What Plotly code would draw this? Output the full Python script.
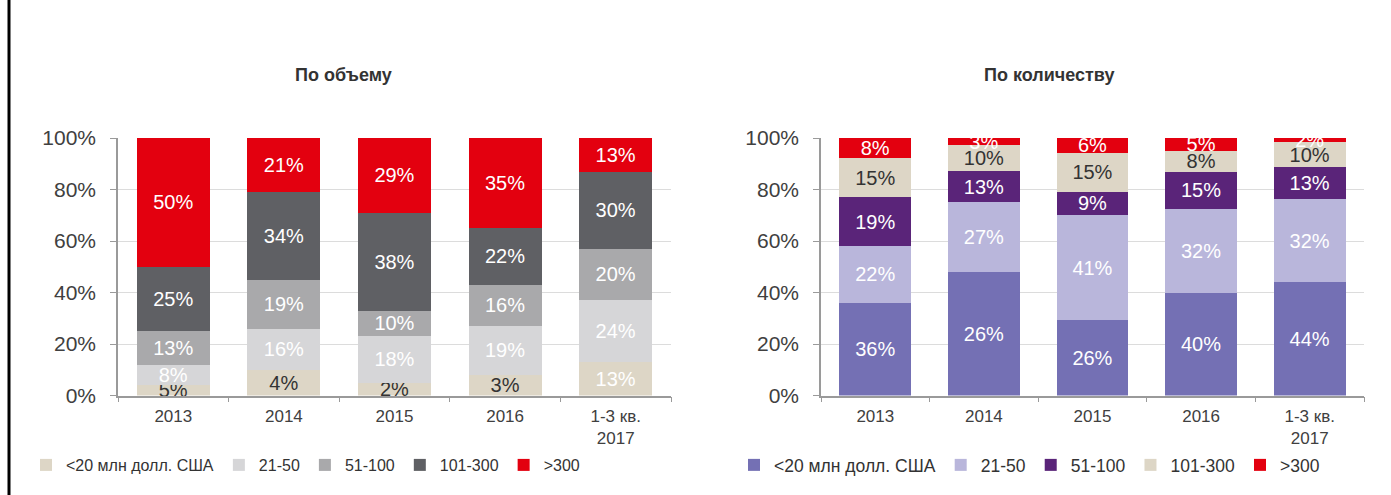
import plotly.graph_objects as go

W, H = 1391, 495

categories = ["2013", "2014", "2015", "2016", "1-3 кв.<br>2017"]
series_names = ["<20 млн долл. США", "21-50", "51-100", "101-300", ">300"]

# По объему: bar heights and printed labels
vol_lt20 = [4, 10, 5, 8, 13]
vol_21_50 = [8, 16, 18, 19, 24]
vol_51_100 = [13, 19, 10, 16, 20]
vol_101_300 = [25, 34, 38, 22, 30]
vol_gt300 = [50, 21, 29, 35, 13]
vol_lbl_lt20 = ["5%", "4%", "2%", "3%", "13%"]
vol_lbl_21_50 = ["8%", "16%", "18%", "19%", "24%"]
vol_lbl_51_100 = ["13%", "19%", "10%", "16%", "20%"]
vol_lbl_101_300 = ["25%", "34%", "38%", "22%", "30%"]
vol_lbl_gt300 = ["50%", "21%", "29%", "35%", "13%"]

# По количеству
cnt_lt20 = [36, 47.8, 29.3, 40, 44.1]
cnt_21_50 = [22, 27.2, 40.8, 32.6, 32.2]
cnt_51_100 = [19, 12.3, 9.1, 14.3, 12.4]
cnt_101_300 = [15.2, 10, 15.1, 8.2, 9.7]
cnt_gt300 = [7.8, 2.6, 5.6, 4.8, 1.5]
cnt_lbl_lt20 = ["36%", "26%", "26%", "40%", "44%"]
cnt_lbl_21_50 = ["22%", "27%", "41%", "32%", "32%"]
cnt_lbl_51_100 = ["19%", "13%", "9%", "15%", "13%"]
cnt_lbl_101_300 = ["15%", "10%", "15%", "8%", "10%"]
cnt_lbl_gt300 = ["8%", "3%", "6%", "5%", "2%"]

y_ticks = [0, 20, 40, 60, 80, 100]
y_tick_labels = ["0%", "20%", "40%", "60%", "80%", "100%"]

FONT = "Arial, Liberation Sans, sans-serif"
DARK = "#333333"
WHITE = "#ffffff"

vol_colors = ["#DDD6C6", "#D6D6D8", "#A9A9AB", "#5F6064", "#E3000F"]
cnt_colors = ["#7470B4", "#B9B6DB", "#5A2479", "#DDD6C6", "#E3000F"]

vol_vals = [vol_lt20, vol_21_50, vol_51_100, vol_101_300, vol_gt300]
vol_lbls = [vol_lbl_lt20, vol_lbl_21_50, vol_lbl_51_100, vol_lbl_101_300, vol_lbl_gt300]
vol_txtcol = [[DARK, DARK, DARK, DARK, WHITE], [WHITE] * 5, [WHITE] * 5, [WHITE] * 5, [WHITE] * 5]
vol_clip = [False, False, False, False, False]

cnt_vals = [cnt_lt20, cnt_21_50, cnt_51_100, cnt_101_300, cnt_gt300]
cnt_lbls = [cnt_lbl_lt20, cnt_lbl_21_50, cnt_lbl_51_100, cnt_lbl_101_300, cnt_lbl_gt300]
cnt_txtcol = [[WHITE] * 5, [WHITE] * 5, [WHITE] * 5, [DARK] * 5, [WHITE] * 5]
cnt_clip = [False, False, False, False, True]

fig = go.Figure()

for i, name in enumerate(series_names):
    fig.add_trace(go.Bar(
        x=categories, y=vol_vals[i], name=name, text=vol_lbls[i],
        textposition="inside", insidetextanchor="middle", constraintext="none",
        textangle=0,
        textfont=dict(family=FONT, size=20, color=vol_txtcol[i]),
        marker=dict(color=vol_colors[i], line=dict(width=0)),
        cliponaxis=vol_clip[i], xaxis="x", yaxis="y", legend="legend",
        hoverinfo="skip",
    ))

for i, name in enumerate(series_names):
    fig.add_trace(go.Bar(
        x=categories, y=cnt_vals[i], name=name, text=cnt_lbls[i],
        textposition="inside", insidetextanchor="middle", constraintext="none",
        textangle=0,
        textfont=dict(family=FONT, size=20, color=cnt_txtcol[i]),
        marker=dict(color=cnt_colors[i], line=dict(width=0)),
        cliponaxis=cnt_clip[i], xaxis="x2", yaxis="y2", legend="legend2",
        hoverinfo="skip",
    ))

y_dom = [1 - 395.5 / H, 1 - 138 / H]

def xax(domain, anchor):
    return dict(
        domain=domain, anchor=anchor, type="category",
        showline=True, linecolor="#9a9a9a", linewidth=1.5,
        ticks="outside", tickson="boundaries", ticklen=5, tickcolor="#9a9a9a",
        ticklabelstandoff=4,
        tickfont=dict(family=FONT, size=17, color="#404040"),
        showgrid=False, automargin=False, fixedrange=True,
    )

def yax(anchor):
    return dict(
        domain=y_dom, anchor=anchor, range=[0, 100.01],
        tickmode="array", tickvals=y_ticks, ticktext=y_tick_labels,
        showline=True, linecolor="#9a9a9a", linewidth=1.5,
        ticks="outside", ticklen=6, tickcolor="#9a9a9a",
        ticklabelstandoff=10,
        tickfont=dict(family=FONT, size=21, color="#404040"),
        showgrid=True, gridcolor="#DCDCDC", gridwidth=1,
        zeroline=False, automargin=False, fixedrange=True,
    )

fig.update_layout(
    width=W, height=H,
    margin=dict(l=0, r=0, t=0, b=0),
    paper_bgcolor="white", plot_bgcolor="white",
    barmode="stack", bargap=0.34,
    font=dict(family=FONT, color=DARK),
    xaxis=xax([118 / W, 671 / W], "y"),
    yaxis=yax("x"),
    xaxis2=xax([821 / W, 1364 / W], "y2"),
    yaxis2=yax("x2"),
    legend=dict(
        orientation="h", x=26 / W, y=1 - 465 / H, xanchor="left", yanchor="middle",
        font=dict(family=FONT, size=16, color=DARK), itemwidth=30,
        bgcolor="rgba(0,0,0,0)", traceorder="normal",
    ),
    legend2=dict(
        orientation="h", x=734 / W, y=1 - 465 / H, xanchor="left", yanchor="middle",
        font=dict(family=FONT, size=17.5, color=DARK), itemwidth=30,
        bgcolor="rgba(0,0,0,0)", traceorder="normal",
    ),
    annotations=[
        dict(text="<b>По объему</b>", x=343 / W, y=1 - 75 / H, xref="paper", yref="paper",
             showarrow=False, xanchor="center", yanchor="middle",
             font=dict(family=FONT, size=18, color=DARK)),
        dict(text="<b>По количеству</b>", x=1049 / W, y=1 - 75 / H, xref="paper", yref="paper",
             showarrow=False, xanchor="center", yanchor="middle",
             font=dict(family=FONT, size=18, color=DARK)),
    ],
    shapes=[
        dict(type="line", xref="paper", yref="paper", x0=9 / W, x1=9 / W, y0=0, y1=1,
             line=dict(color="black", width=3)),
    ],
    showlegend=True,
)

fig.write_html("out.html")
